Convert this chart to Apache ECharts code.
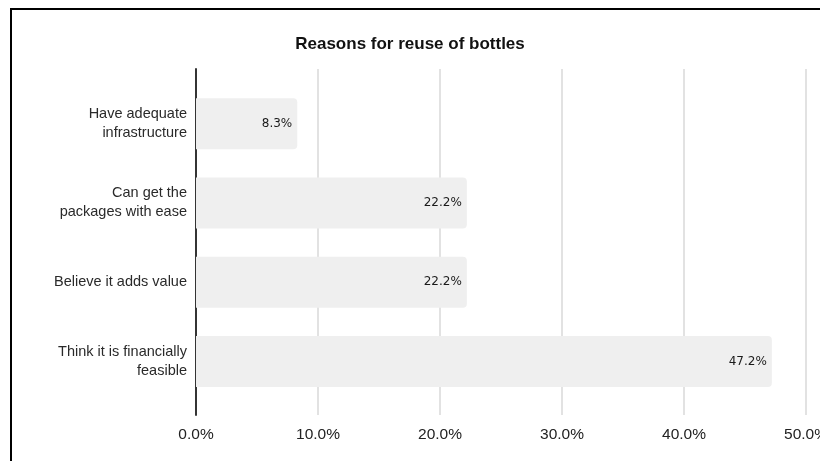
<!DOCTYPE html>
<html>
<head>
<meta charset="utf-8">
<script src="https://cdn.jsdelivr.net/npm/echarts@6/dist/echarts.min.js"></script>
<style>
  html, body { margin: 0; padding: 0; background: #fff; }
  #chart { width: 820px; height: 461px; }
</style>
</head>
<body>
<div id="chart"></div>
<script>
// Survey answers: why respondents reuse bottles (share of respondents, %)
const chartTitle = 'Reasons for reuse of bottles';
const reasons = [
  'Have adequate\ninfrastructure',
  'Can get the\npackages with ease',
  'Believe it adds value',
  'Think it is financially\nfeasible'
];
const shares = [8.3, 22.2, 22.2, 47.2];
const axisMax = 50;
const axisStep = 10;

const pct = v => v.toFixed(1) + '%';

const chart = echarts.init(document.getElementById('chart'), null, { renderer: 'canvas' });

chart.setOption({
  backgroundColor: '#ffffff',
  animation: false,
  title: {
    text: chartTitle,
    left: 'center',
    top: 31,
    textStyle: { fontFamily: 'Liberation Sans', fontSize: 17, fontWeight: 'bold', color: '#111' }
  },
  graphic: [{
    type: 'rect',
    shape: { x: 11, y: 9, width: 1000, height: 700 },
    style: { fill: null, stroke: '#000', lineWidth: 2 },
    silent: true,
    z: 100
  }],
  grid: [
    // frame: gridlines, tick labels and the dark baseline
    { left: 196, top: 69, width: 610, height: 346, outerBoundsMode: 'none', containLabel: false },
    // bars
    { left: 196, top: 84, width: 610, height: 317, outerBoundsMode: 'none', containLabel: false }
  ],
  xAxis: [
    {
      type: 'value', gridIndex: 0, min: 0, max: axisMax, interval: axisStep,
      axisLine: { show: false }, axisTick: { show: false },
      splitLine: { lineStyle: { color: '#d9d9d9', width: 1.5 } },
      axisLabel: {
        formatter: pct, margin: 12, color: '#222',
        fontFamily: 'Liberation Sans', fontSize: 15.5
      }
    },
    {
      type: 'value', gridIndex: 1, min: 0, max: axisMax, interval: axisStep,
      show: false, splitLine: { show: false }
    }
  ],
  yAxis: [
    {
      type: 'value', gridIndex: 0, min: 0, max: 1,
      axisLine: { show: true, onZero: false, lineStyle: { color: '#222', width: 1.8 } },
      axisTick: { show: false }, axisLabel: { show: false }, splitLine: { show: false }
    },
    {
      type: 'category', gridIndex: 1, data: reasons, inverse: true,
      axisLine: { show: false }, axisTick: { show: false },
      axisLabel: {
        margin: 9, color: '#2a2a2a', align: 'right',
        fontFamily: 'Liberation Sans', fontSize: 14.5, lineHeight: 19
      }
    }
  ],
  series: [{
    type: 'bar',
    xAxisIndex: 1,
    yAxisIndex: 1,
    data: shares,
    barWidth: 51,
    itemStyle: { color: '#efefef', borderRadius: [0, 4, 4, 0] },
    label: {
      show: true,
      position: 'insideRight',
      distance: 5,
      formatter: p => pct(p.value),
      color: '#1a1a1a',
      fontFamily: 'DejaVu Sans',
      fontSize: 12
    }
  }]
});
</script>
</body>
</html>
